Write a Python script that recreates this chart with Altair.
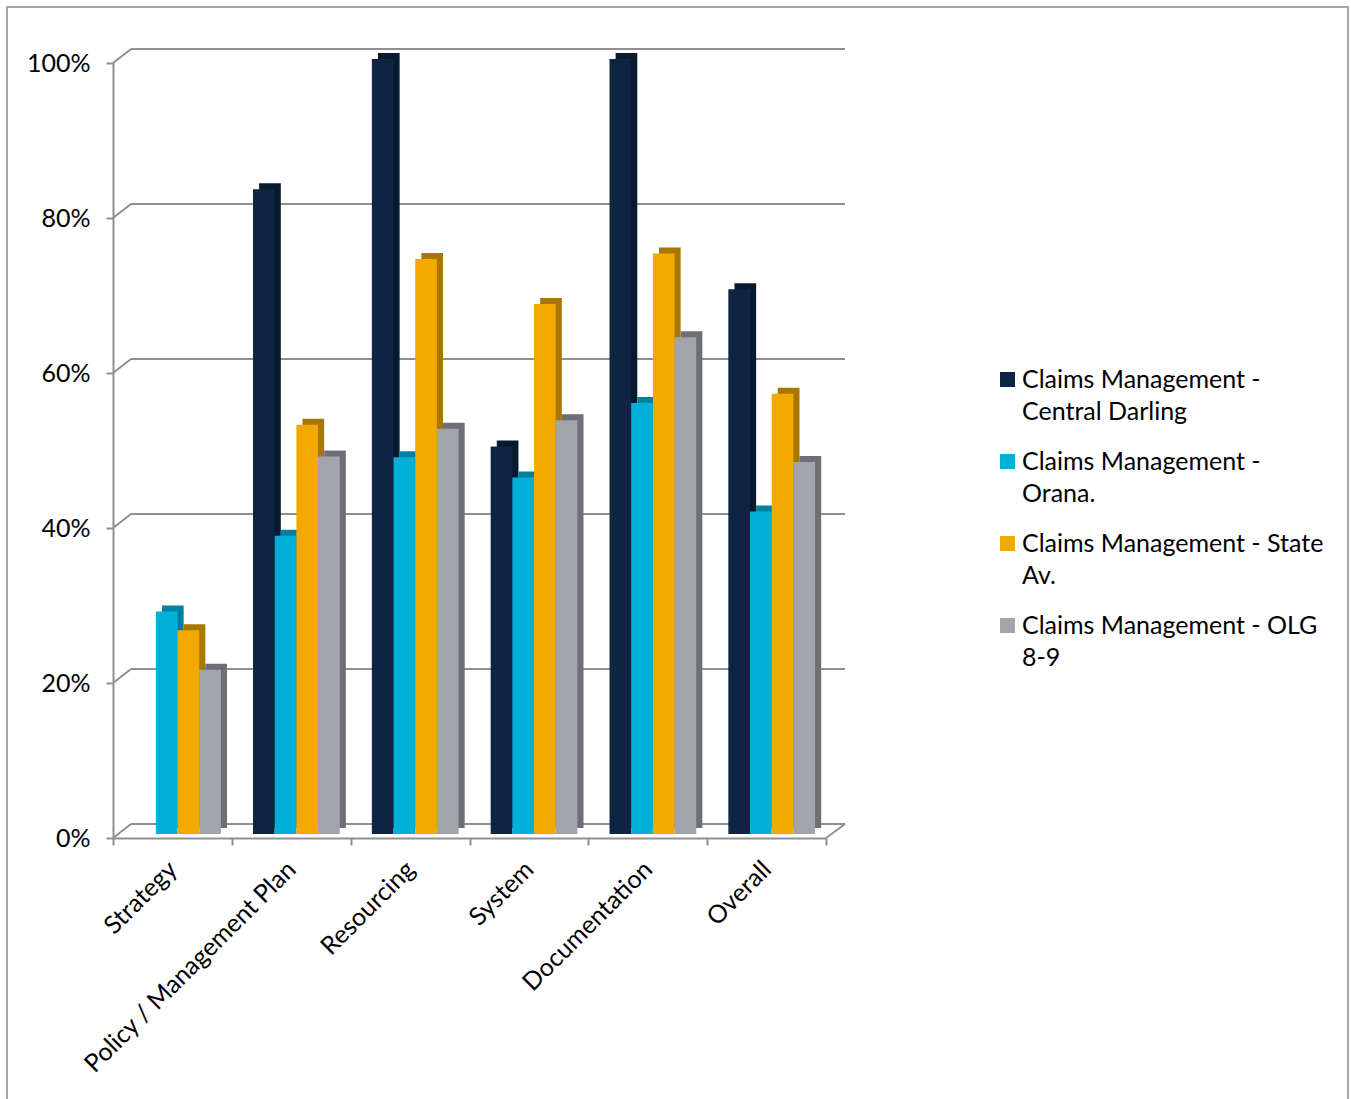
import altair as alt
import pandas as pd

categories = ["Strategy", "Policy / Management Plan", "Resourcing", "System", "Documentation", "Overall"]
series = [
    "Claims Management - Central Darling",
    "Claims Management - Orana.",
    "Claims Management - State Av.",
    "Claims Management - OLG 8-9",
]
central_darling = [0, 83.2, 100, 50, 100, 70.3]
orana = [28.7, 38.5, 48.6, 46.0, 55.6, 41.6]
state_av = [26.3, 52.8, 74.2, 68.4, 74.9, 56.8]
olg_8_9 = [21.2, 48.7, 52.3, 53.4, 64.1, 48.0]
front_colors = ["#0f2342", "#00b0da", "#f3a900", "#a1a5ab"]
side_colors = ["#081a30", "#00809f", "#a87700", "#6c7075"]
legend_line1 = ["Claims Management -", "Claims Management -", "Claims Management - State", "Claims Management - OLG"]
legend_line2 = ["Central Darling", "Orana.", "Av.", "8-9"]
y_ticks = [0, 20, 40, 60, 80, 100]

FONT = "Lato"
GRID = "#8f8f8f"
W, H = 713, 775
DX, DY = 18, -14

rows = []
for s_i, (name, vals) in enumerate(zip(series, [central_darling, orana, state_av, olg_8_9])):
    for c, v in zip(categories, vals):
        rows.append({"category": c, "series": name, "value": v, "shade": side_colors[s_i]})
df = pd.DataFrame(rows)
ticks_df = pd.DataFrame({"v": y_ticks})

yscale = alt.Scale(domain=[0, 100], nice=False, zero=True)
xscale = alt.Scale(domain=categories, paddingInner=0, paddingOuter=0)
xo_front = alt.Scale(domain=series, paddingInner=0, paddingOuter=0.74, align=0.66)
xo_side = alt.Scale(domain=series, paddingInner=0, paddingOuter=0.74, align=0.85)

yaxis = alt.Axis(values=y_ticks, labelExpr="datum.value + '%'", labelFont=FONT, labelFontSize=25,
                 labelColor="#000000", labelPadding=16, domainColor=GRID, domainWidth=2,
                 tickColor=GRID, tickWidth=2, tickSize=7, grid=False)
xaxis = alt.Axis(tickBand="extent", labelAngle=315, labelAlign="right", labelBaseline="middle",
                 labelFont=FONT, labelFontSize=25, labelColor="#000000", labelPadding=20,
                 domainColor=GRID, domainWidth=2, tickColor=GRID, tickWidth=2, tickSize=7,
                 grid=False, labelLimit=500)

# back-wall gridlines
grid = alt.Chart(ticks_df).mark_rule(color=GRID, strokeWidth=2, yOffset=DY).encode(
    x=alt.value(DX), x2=alt.value(W + DX + 1),
    y=alt.Y("v:Q", scale=yscale, axis=yaxis, title=None),
)
# left wall diagonals
diag = alt.Chart(ticks_df).mark_rule(color=GRID, strokeWidth=2, y2Offset=DY).encode(
    x=alt.value(0), x2=alt.value(DX),
    y=alt.Y("v:Q", scale=yscale, axis=yaxis, title=None), y2=alt.Y2("v:Q"),
)
# right floor diagonal
diag_r = alt.Chart(ticks_df).transform_filter("datum.v == 0").mark_rule(
    color=GRID, strokeWidth=2, y2Offset=DY).encode(
    x=alt.value(W), x2=alt.value(W + DX + 1),
    y=alt.Y("v:Q", scale=yscale, axis=yaxis, title=None), y2=alt.Y2("v:Q"),
)

label_expr_parts = []
for name, l1, l2 in zip(series, legend_line1, legend_line2):
    label_expr_parts.append(f"datum.label == '{name}' ? ['{l1}', '{l2}'] : ")
label_expr = "".join(label_expr_parts) + "datum.label"

side = alt.Chart(df).mark_bar(yOffset=-10, y2Offset=-9).encode(
    x=alt.X("category:N", scale=xscale, sort=categories, axis=xaxis, title=None),
    xOffset=alt.XOffset("series:N", scale=xo_side, sort=series),
    y=alt.Y("value:Q", scale=yscale, axis=yaxis, title=None),
    fill=alt.Fill("shade:N", scale=None, legend=None),
)

front = alt.Chart(df).mark_bar(yOffset=-4, y2Offset=-3).encode(
    x=alt.X("category:N", scale=xscale, sort=categories, axis=xaxis, title=None),
    xOffset=alt.XOffset("series:N", scale=xo_front, sort=series),
    y=alt.Y("value:Q", scale=yscale, axis=yaxis, title=None),
    color=alt.Color("series:N", sort=series, scale=alt.Scale(domain=series, range=front_colors),
                    legend=alt.Legend(title=None, orient="none", legendX=882, legendY=304,
                                      symbolType="square", symbolSize=225, symbolStrokeWidth=0,
                                      labelFont=FONT, labelFontSize=25, labelColor="#000000",
                                      labelLimit=500, labelExpr=label_expr, labelBaseline="middle",
                                      labelOffset=2, rowPadding=24, padding=0)),
)

border = alt.Chart(ticks_df).transform_filter("datum.v == 0").mark_rect(
    fill=None, stroke="#8a8a8a", strokeWidth=1.5).encode(
    x=alt.value(7 - 113), x2=alt.value(1348 - 113), y=alt.value(7 - 63), y2=alt.value(1110 - 63),
)

chart = alt.layer(border, grid, diag, diag_r, side, front).resolve_scale(
    xOffset="independent"
).properties(
    width=W, height=H,
    autosize=alt.AutoSizeParams(type="none"),
    padding={"left": 113, "top": 63, "right": 1351 - 113 - W, "bottom": 1099 - 63 - H},
).configure(
    style={"guide-label": {"lineHeight": 32}},
    view=alt.ViewConfig(stroke=None),
)

chart.save("out.html", embed_options={"renderer": "svg", "actions": False})
